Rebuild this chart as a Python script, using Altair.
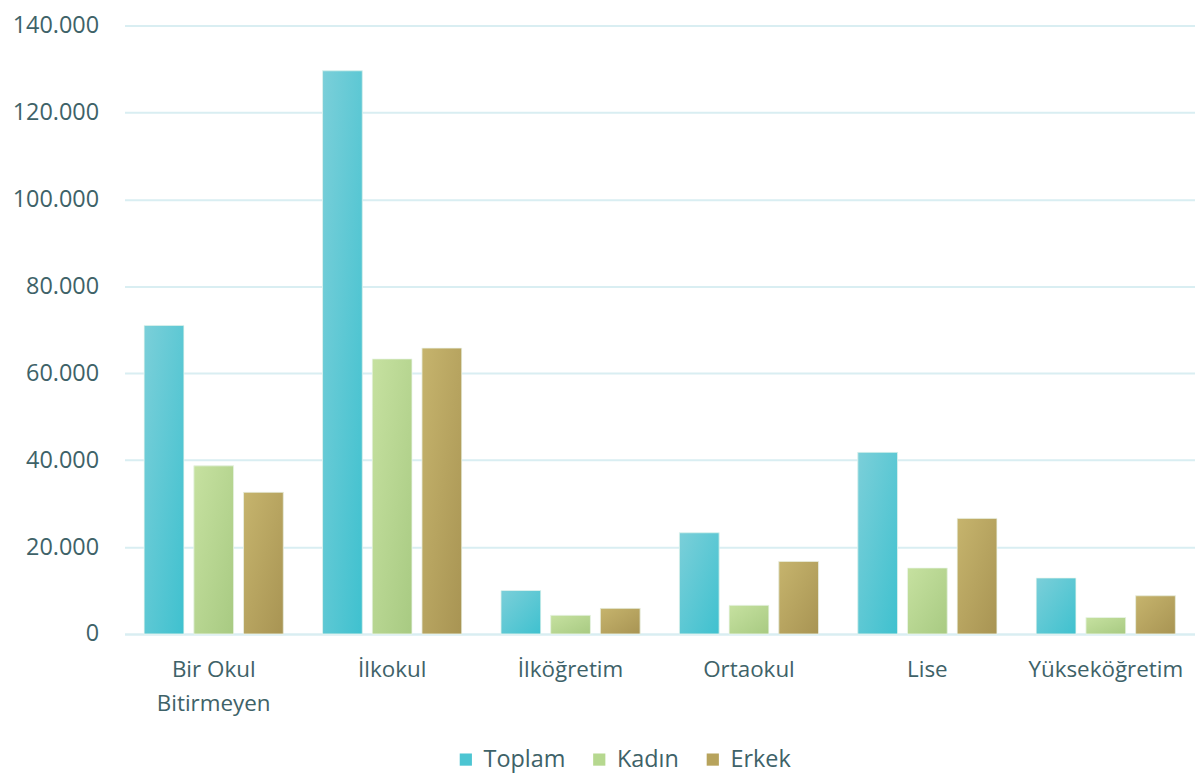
import altair as alt
import pandas as pd

categories = ["Bir Okul Bitirmeyen", "İlkokul", "İlköğretim", "Ortaokul", "Lise", "Yükseköğretim"]
series = ["Toplam", "Kadın", "Erkek"]
toplam = [71000, 129600, 10000, 23300, 41800, 12900]
kadin = [38700, 63300, 4300, 6600, 15200, 3800]
erkek = [32600, 65800, 5900, 16700, 26600, 8800]

rows = []
for i, c in enumerate(categories):
    rows.append({"cat": c, "ser": "Toplam", "val": toplam[i]})
    rows.append({"cat": c, "ser": "Kadın", "val": kadin[i]})
    rows.append({"cat": c, "ser": "Erkek", "val": erkek[i]})
df = pd.DataFrame(rows)

solid = ["#4cc5d2", "#b6d88f", "#b7a35c"]
grads = {
    "Toplam": ("#7bcfd9", "#3fc1cf"),
    "Kadın": ("#c6e1a0", "#a8ca82"),
    "Erkek": ("#c6b46d", "#a89453"),
}

FONT = "Open Sans"
TXT = "#3e6268"

x_enc = alt.X("cat:N", sort=categories, title=None,
              scale=alt.Scale(paddingInner=0.22, paddingOuter=0.11),
              axis=alt.Axis(labelAngle=0, ticks=False, domain=True, domainColor="#d9eef2",
                            domainWidth=2, grid=False, labelFontSize=22.5, labelColor=TXT,
                            labelFont=FONT, labelPadding=25, labelLineHeight=34,
                            labelBaseline="top",
                            labelExpr="datum.label == 'Bir Okul Bitirmeyen' ? ['Bir Okul', 'Bitirmeyen'] : datum.label"))
xo_enc = alt.XOffset("ser:N", sort=series,
                     scale=alt.Scale(domain=series, paddingInner=0.2, paddingOuter=0))
y_enc = alt.Y("val:Q", title=None,
              scale=alt.Scale(domain=[0, 140000], nice=False),
              axis=alt.Axis(values=[0, 20000, 40000, 60000, 80000, 100000, 120000, 140000],
                            ticks=False, domain=False,
                            grid=True, gridColor="#d9eef2", gridWidth=2,
                            labelFontSize=23.5, labelColor=TXT, labelFont=FONT, labelPadding=26,
                            labelExpr="replace(format(datum.value, ','), ',', '.')"))

base = alt.Chart(df).mark_bar().encode(
    x=x_enc, xOffset=xo_enc, y=y_enc,
    color=alt.Color("ser:N", sort=series, scale=alt.Scale(domain=series, range=solid),
                    legend=alt.Legend(title=None, orient="none", direction="horizontal",
                                      legendX=331, legendY=725, symbolType="square",
                                      symbolSize=150, symbolStrokeWidth=0,
                                      labelFontSize=23.5, labelColor=TXT, labelFont=FONT,
                                      labelOffset=6, columnPadding=22)),
)

layers = [base]
for s in series:
    top, bot = grads[s]
    g = alt.LinearGradient(gradient="linear", x1=0, y1=0, x2=1, y2=1,
                           stops=[alt.GradientStop(color=top, offset=0),
                                  alt.GradientStop(color=bot, offset=1)])
    layers.append(
        alt.Chart(df).transform_filter(alt.datum.ser == s).mark_bar(
            color=g, stroke="#eef7f0", strokeWidth=0.8
        ).encode(x=x_enc, xOffset=xo_enc, y=y_enc)
    )

chart = alt.layer(*layers).properties(
    width=1075, height=611,
    background="white",
    autosize=alt.AutoSizeParams(type="none"),
    padding={"left": 117, "top": 16, "right": 0, "bottom": 145},
).configure_view(stroke="transparent", strokeWidth=0).configure_axisY(domain=False)

chart.save("out.html", embed_options={"renderer": "svg", "actions": False})
